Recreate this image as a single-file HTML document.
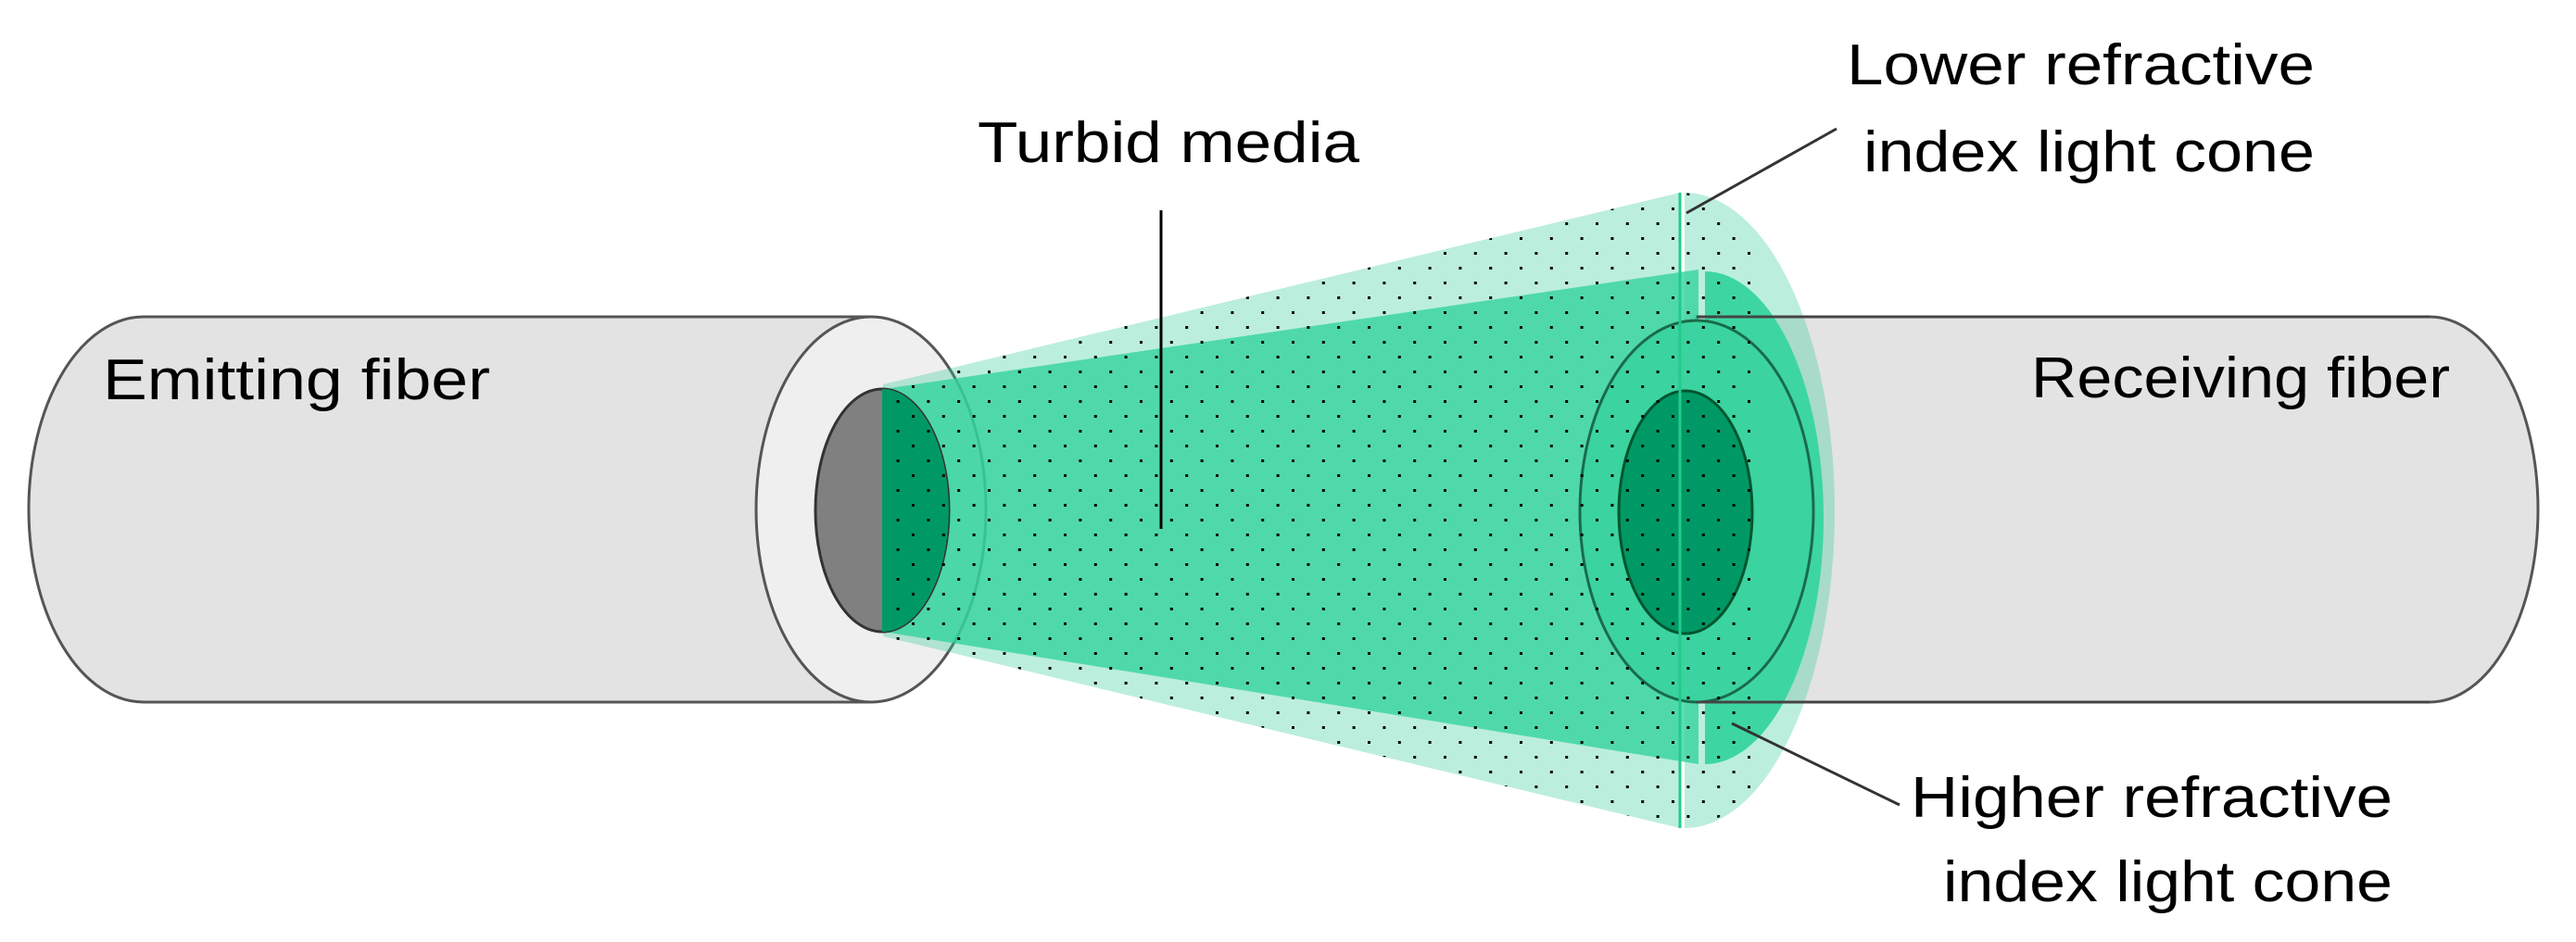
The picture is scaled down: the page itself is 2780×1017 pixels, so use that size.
<!DOCTYPE html>
<html><head><meta charset="utf-8"><style>
html,body{margin:0;padding:0;background:#fff}
svg{display:block}
text{font-family:"Liberation Sans Narrow","Liberation Sans",sans-serif;font-size:62px;fill:#000}
</style></head><body>
<svg width="2780" height="1017" viewBox="0 0 2780 1017" xmlns="http://www.w3.org/2000/svg">
<defs>
<pattern id="dots" width="32.8" height="32" patternUnits="userSpaceOnUse" x="0" y="0">
<rect x="0" y="0" width="3" height="3" fill="#000"/>
<rect x="16.4" y="16" width="3" height="3" fill="#000"/>
</pattern>
<clipPath id="conec">
<polygon points="953,415 1813,208 1813,894 953,687"/>
<path d="M1813,208 A165,343 0 0 1 1813,894 Z"/>
</clipPath>
</defs>
<!-- Emitting fiber -->
<path d="M155,342 L940,342 L940,758 L155,758 A124,208 0 0 1 155,342 Z" fill="#e3e3e3" stroke="#555" stroke-width="3"/>
<ellipse cx="940" cy="550" rx="124" ry="208" fill="#efefef" stroke="#555" stroke-width="3"/>
<!-- Receiving fiber body -->
<path d="M1831,342 L2622,342 A117,208 0 0 1 2622,758 L1831,758 Z" fill="#e3e3e3" stroke="#555" stroke-width="3"/>
<!-- light cone -->
<polygon points="953,415 1813,208 1813,894 953,687" fill="#33cc99" fill-opacity="0.33"/>
<path d="M1818,208 A162,343 0 0 1 1818,894 Z" fill="#33cc99" fill-opacity="0.33"/>
<!-- bright cone -->
<polygon points="953,420 1833,291 1833,825 953,682" fill="#33d39f" fill-opacity="0.8"/>
<path d="M1840,293 A128,266 0 0 1 1840,825 Z" fill="#3dd6a3"/>
<!-- emitting core on top -->
<ellipse cx="952" cy="551" rx="72" ry="131" fill="#808080" stroke="#333" stroke-width="3"/>
<path d="M952,420 A72,131 0 0 1 952,682 Z" fill="#009966"/>
<!-- ring + core -->
<ellipse cx="1831" cy="552" rx="126" ry="206" fill="#3bd3a0" stroke="#1a6b4a" stroke-width="3"/>
<ellipse cx="1819" cy="553" rx="72" ry="131" fill="#009966" stroke="#00552f" stroke-width="3"/>
<line x1="1831" y1="342" x2="2622" y2="342" stroke="#444" stroke-width="3"/>
<line x1="1831" y1="758" x2="2622" y2="758" stroke="#444" stroke-width="3"/>
<!-- dots -->
<rect x="956" y="200" width="944" height="700" fill="url(#dots)" clip-path="url(#conec)"/>
<line x1="1813" y1="208" x2="1813" y2="894" stroke="#22cc88" stroke-width="3"/>
<!-- leaders -->
<line x1="1253" y1="227" x2="1253" y2="571" stroke="#000" stroke-width="3"/>
<line x1="1982" y1="139" x2="1820" y2="230" stroke="#333" stroke-width="3"/>
<line x1="1869" y1="781" x2="2050" y2="869" stroke="#333" stroke-width="3"/>
<!-- labels -->
<text x="111" y="431" textLength="418" lengthAdjust="spacingAndGlyphs">Emitting fiber</text>
<text x="1055" y="175" textLength="412" lengthAdjust="spacingAndGlyphs">Turbid media</text>
<text x="1993" y="91" textLength="505" lengthAdjust="spacingAndGlyphs">Lower refractive</text>
<text x="2011" y="185" textLength="487" lengthAdjust="spacingAndGlyphs">index light cone</text>
<text x="2192" y="429" textLength="452" lengthAdjust="spacingAndGlyphs">Receiving fiber</text>
<text x="2062" y="882" textLength="520" lengthAdjust="spacingAndGlyphs">Higher refractive</text>
<text x="2097" y="973" textLength="485" lengthAdjust="spacingAndGlyphs">index light cone</text>
</svg>
</body></html>
